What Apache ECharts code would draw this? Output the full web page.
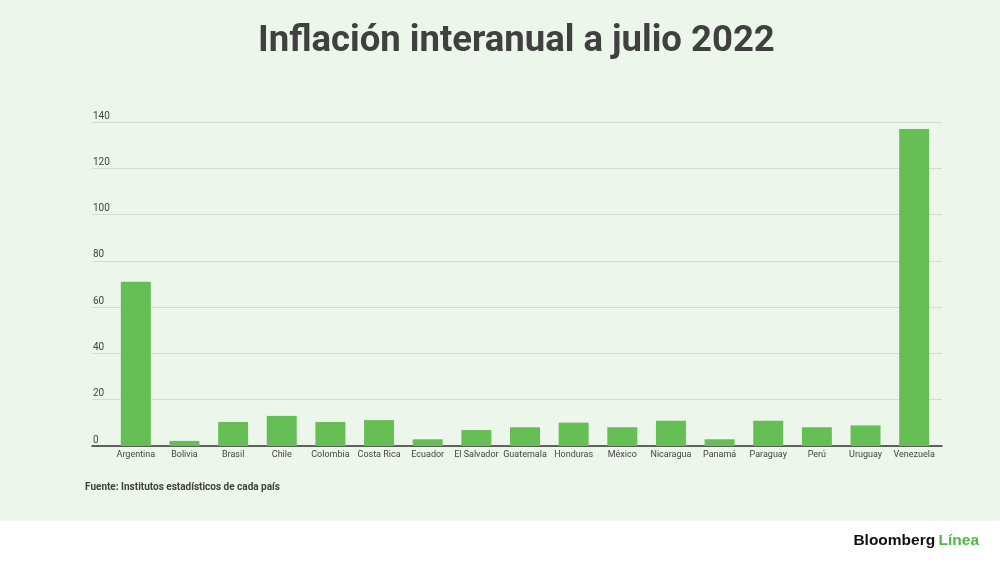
<!DOCTYPE html>
<html><head><meta charset="utf-8">
<script src="https://cdn.jsdelivr.net/npm/echarts@6/dist/echarts.min.js"></script>
<style>html,body{margin:0;padding:0;background:#fff}#c{width:1000px;height:562px}</style>
</head><body><div id="c"></div>
<script>
const categories = ['Argentina','Bolivia','Brasil','Chile','Colombia','Costa Rica','Ecuador','El Salvador','Guatemala','Honduras','México','Nicaragua','Panamá','Paraguay','Perú','Uruguay','Venezuela'];
const inflation = [71, 2.2, 10.4, 13, 10.4, 11.2, 2.9, 6.9, 8.1, 10.1, 8.1, 10.9, 2.9, 10.9, 8.1, 8.9, 137];
const yTicks = [0, 20, 40, 60, 80, 100, 120, 140];

const chart = echarts.init(document.getElementById('c'), null, {renderer:'canvas'});
const yMax = yTicks[yTicks.length-1];
const yInterval = yTicks[1]-yTicks[0];
chart.setOption({
  backgroundColor: '#EDF6EA',
  animation: false,
  title: {
    text: 'Inflación interanual a julio 2022',
    left: 253, top: 18,
    textStyle: {fontFamily:'Roboto', fontWeight:'bold', fontSize:36.5, color:'#404040'}
  },
  grid: [
    {left:92, right:58, top:122, bottom:116},
    {left:111.5, right:61.5, top:122, bottom:116}
  ],
  xAxis: [
    {gridIndex:0, type:'value', min:0, max:1, axisLine:{show:true, lineStyle:{color:'#333', width:1.5}}, axisTick:{show:false}, axisLabel:{show:false}, splitLine:{show:false}},
    {gridIndex:1, type:'category', data:categories, axisLine:{show:false}, axisTick:{show:false},
     axisLabel:{color:'#444', fontSize:9, fontFamily:'Roboto', margin:4, interval:0}}
  ],
  yAxis: [
    {gridIndex:0, type:'value', min:0, max:yMax, interval:yInterval,
     axisLine:{show:false}, axisTick:{show:false},
     axisLabel:{inside:true, margin:1, verticalAlign:'bottom', padding:[0,0,1,0], color:'#444', fontSize:10, fontFamily:'Roboto'},
     splitLine:{lineStyle:{color:'#D3DCD0', width:1}}},
    {gridIndex:1, type:'value', min:0, max:yMax, interval:yInterval, show:false}
  ],
  series: [{
    type:'bar', xAxisIndex:1, yAxisIndex:1, data:inflation, barWidth:30,
    itemStyle:{color:'#66BF55'}
  }],
  graphic: [
    {type:'text', left:85, top:482, style:{text:'Fuente: Institutos estadísticos de cada país', fontFamily:'Roboto', fontWeight:'bold', fontSize:10, fill:'#404040'}},
    {type:'rect', left:0, top:521, shape:{width:1000, height:41}, style:{fill:'#ffffff'}},
    {type:'text', right:21, top:533, style:{
      text:'{a|Bloomberg} {b|Línea}',
      rich:{
        a:{fontFamily:'Liberation Sans', fontWeight:'bold', fontSize:15.5, fill:'#111'},
        b:{fontFamily:'Liberation Sans', fontWeight:'bold', fontSize:15.5, fill:'#4DB848'}
      }
    }}
  ]
});
</script></body></html>
